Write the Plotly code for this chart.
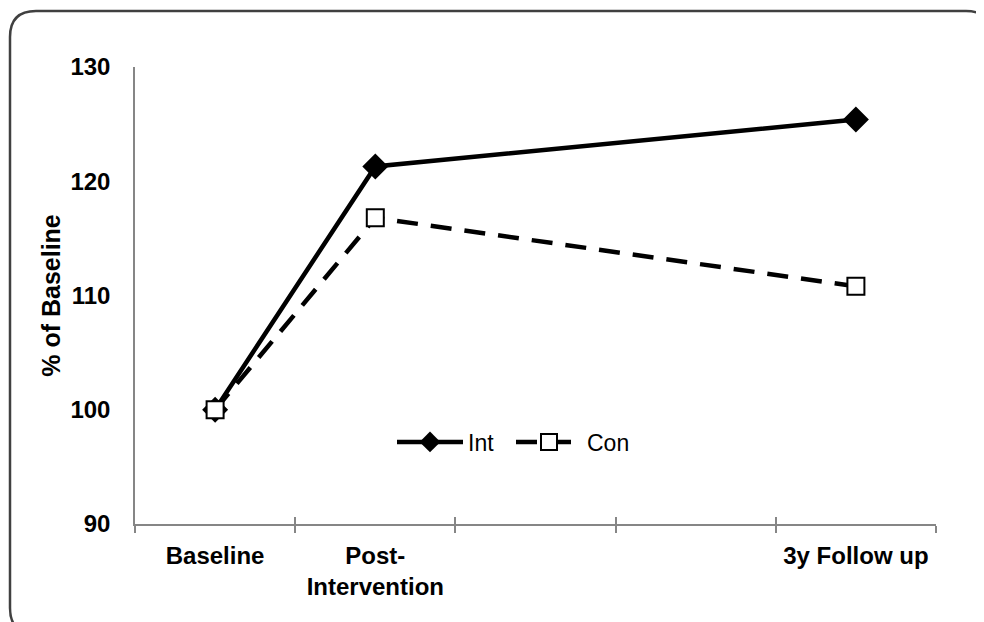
import plotly.graph_objects as go

# ---- data ----
categories = ["Baseline", "Post-<br>Intervention", "", "", "3y Follow up"]
point_index = [0, 1, 4]
int_values = [100, 121.3, 125.4]
con_values = [100, 116.8, 110.8]
y_ticks = [90, 100, 110, 120, 130]

# page has an 8px body margin: work in screen pixels, convert to figure pixels
OFF = 8
W, H = 984 - OFF, 622 - OFF
PL, PR, PT, PB = 135, 936, 67, 524          # plot area in screen pixels
ML, MR, MT, MB = PL - OFF, W - (PR - OFF), PT - OFF, H - (PB - OFF)
PW, PH = W - ML - MR, H - MT - MB

def px(x):
    return (x - OFF - ML) / PW

def py(y):
    return (H - MB - (y - OFF)) / PH

FONT = "Liberation Sans, Arial, sans-serif"

fig = go.Figure()
fig.add_trace(go.Scatter(
    x=point_index, y=int_values, name="Int", mode="lines+markers",
    line=dict(color="black", width=4.5),
    marker=dict(symbol="diamond", size=20, color="black", line=dict(width=0)),
))
fig.add_trace(go.Scatter(
    x=point_index, y=con_values, name="Con", mode="lines+markers",
    line=dict(color="black", width=4.5, dash="21px,13px"),
    marker=dict(symbol="square", size=17, color="white", line=dict(color="black", width=2)),
))
# invisible trace on overlay axis to carry the inner tick marks
fig.add_trace(go.Scatter(x=[0], y=[100], xaxis="x2", mode="markers",
                         marker=dict(opacity=0), showlegend=False, hoverinfo="skip"))

cat_pos = list(range(len(categories)))
bounds = [i - 0.5 for i in range(len(categories) + 1)]

# rounded border (screen pixels)
x0, y0, x1, y1, r = 10, 11, 992, 634, 26
rx, ry = r / PW, r / PH
path = (f"M{px(x0)},{py(y0) - ry} L{px(x0)},{py(y1) + ry} "
        f"Q{px(x0)},{py(y1)} {px(x0) + rx},{py(y1)} "
        f"L{px(x1) - rx},{py(y1)} Q{px(x1)},{py(y1)} {px(x1)},{py(y1) + ry} "
        f"L{px(x1)},{py(y0) - ry} Q{px(x1)},{py(y0)} {px(x1) - rx},{py(y0)} "
        f"L{px(x0) + rx},{py(y0)} Q{px(x0)},{py(y0)} {px(x0)},{py(y0) - ry} Z")

fig.update_layout(
    width=W, height=H,
    margin=dict(l=ML, r=MR, t=MT, b=MB),
    paper_bgcolor="white", plot_bgcolor="white",
    font=dict(family=FONT, size=24, color="black"),
    showlegend=True,
    legend=dict(orientation="h", x=px(392), y=py(442), xanchor="left", yanchor="middle",
                bgcolor="rgba(0,0,0,0)", font=dict(family=FONT, size=23, color="black"),
                itemwidth=66, tracegroupgap=0,
                entrywidth=38, entrywidthmode="pixels"),
    xaxis=dict(
        range=[-0.5, len(categories) - 0.5],
        tickmode="array", tickvals=cat_pos, ticktext=categories,
        ticks="", showgrid=False, zeroline=False,
        showline=True, linecolor="#868686", linewidth=1.5,
        tickfont=dict(family=FONT, size=24, weight="bold"),
        ticklabelstandoff=9,
        minor=dict(tickmode="array", tickvals=bounds, ticks="outside", ticklen=7,
                   tickcolor="#868686", tickwidth=1.5, showgrid=False),
    ),
    xaxis2=dict(
        overlaying="x", matches="x", side="bottom", anchor="y",
        tickmode="array", tickvals=bounds, ticks="inside", ticklen=7,
        tickcolor="#868686", tickwidth=1.5, showticklabels=False,
        showgrid=False, zeroline=False, showline=False,
    ),
    yaxis=dict(
        range=[90, 130], tickmode="array", tickvals=y_ticks,
        ticks="", showgrid=False, zeroline=False,
        showline=True, linecolor="#868686", linewidth=1.5,
        tickfont=dict(family=FONT, size=24, weight="bold"),
        ticklabelstandoff=18,
        title=dict(text="% of Baseline", standoff=3,
                   font=dict(family=FONT, size=25, weight="bold")),
    ),
    shapes=[dict(type="path", xref="paper", yref="paper", path=path,
                 line=dict(color="#404040", width=2.5), layer="below")],
)

fig.write_html("out.html")
